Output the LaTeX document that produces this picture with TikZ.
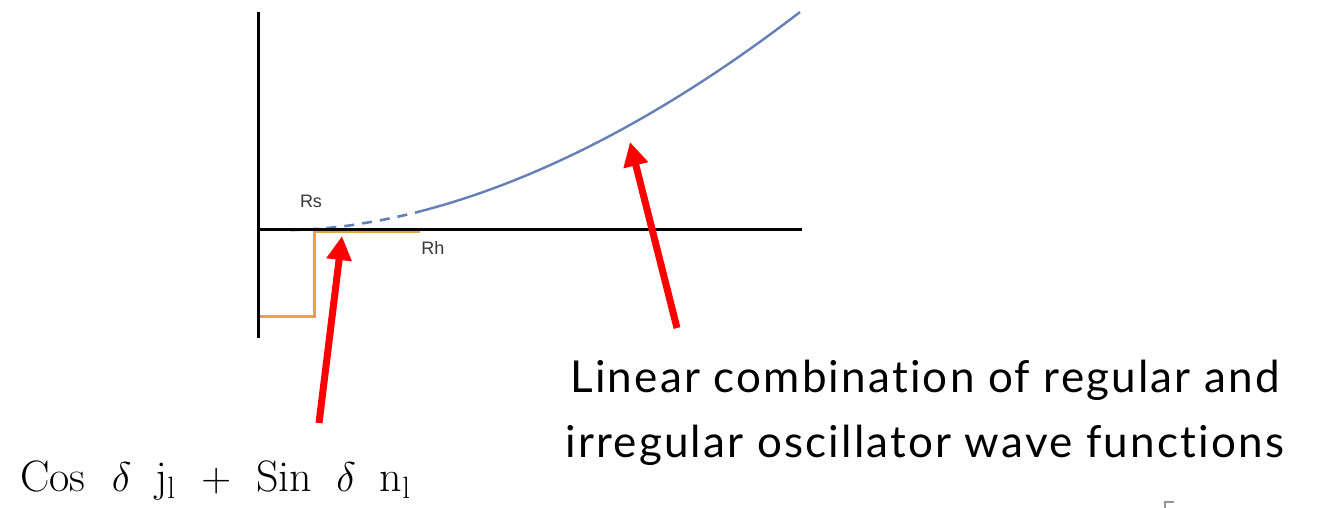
\documentclass[tikz,border=0pt]{standalone}
\usepackage{fontspec}
\usepackage{amsmath}
\setmainfont{Latin Modern Roman}
\newfontfamily\gillfont[Ligatures=NoCommon,LetterSpace=5]{Lato}
\newfontfamily\arialfont{Liberation Sans}
\usetikzlibrary{arrows.meta}
\definecolor{axisblack}{RGB}{0,0,0}
\definecolor{curveblue}{RGB}{100,128,182}
\definecolor{wellorange}{RGB}{226,165,70}
\definecolor{arrowred}{RGB}{255,0,0}
\definecolor{labelgray}{RGB}{55,55,55}
\definecolor{markgray}{RGB}{150,150,150}
\tikzset{
  axisline/.style={draw=axisblack, line width=1.5pt},
  wellline/.style={draw=wellorange, line width=1.5pt},
  wavesolid/.style={draw=curveblue, line width=1.2pt},
  wavedash/.style={draw=curveblue, line width=1.3pt, dash pattern=on 5pt off 4pt},
  redarrow/.style={draw=arrowred, line width=3.5pt, -{Triangle[length=12pt,width=12pt]}},
  smalllabel/.style={font=\arialfont\fontsize{9}{11}\selectfont, text=labelgray, inner sep=0pt},
  bigtext/.style={font=\gillfont\fontsize{22}{26}\selectfont, inner sep=0pt, anchor=base west},
  mathtext/.style={font=\fontsize{22}{26}\selectfont, inner sep=0pt, anchor=base west}
}
\begin{document}
\begin{tikzpicture}[x=0.5pt,y=-0.5pt]
\useasboundingbox (0,0) rectangle (1319,508);
% potential well (orange)
\draw[wellline] (260,316) -- (314,316) -- (314,231.5) -- (420,231.5);
% wave function
\draw[wavedash] plot[domain=290.5:420, samples=30] (\x, {230-218*((\x-290)/510)^1.8});
\draw[wavesolid] plot[domain=420:800, samples=80] (\x, {230-218*((\x-290)/510)^1.8});
% axes
\coordinate (ytop) at (258,12);
\coordinate (ybot) at (258,338);
\coordinate (xleft) at (258,230);
\coordinate (xright) at (802,230);
\draw[axisline] (ytop) -- (ybot);
\draw[axisline] (xleft) -- (xright);
% labels
\node[smalllabel] (rs) at (311,201) {Rs};
\node[smalllabel] (rh) at (433,248) {Rh};
% arrows
\coordinate (a1tail) at (319,423);
\coordinate (a1tip) at (342,236);
\coordinate (a2tail) at (677,328);
\coordinate (a2tip) at (630,142);
\draw[redarrow] (a1tail) -- (a1tip);
\draw[redarrow] (a2tail) -- (a2tip);
% texts
\node[bigtext] (txt1) at (570,393) {Linear combination of regular and};
\node[bigtext] (txt2) at (565,457) {irregular oscillator wave functions};
\node[mathtext] (formula) at (20,491) {$\mathrm{Cos}\hspace{13pt}\delta\hspace{12pt}\mathrm{j}_{\mathrm{l}}\hspace{8pt}+\hspace{8pt}\mathrm{Sin}\hspace{12pt}\delta\hspace{12pt}\mathrm{n}_{\mathrm{l}}$};
% cut-off page number fragment
\draw[markgray, line width=1pt] (1174,501.5) -- (1165,501.5) -- (1165,508);
\end{tikzpicture}
\end{document}
